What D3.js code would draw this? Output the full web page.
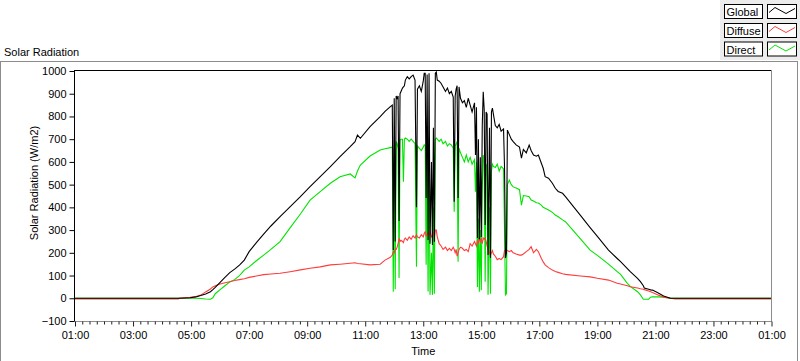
<!DOCTYPE html>
<html><head><meta charset="utf-8">
<script src="https://cdn.jsdelivr.net/npm/d3@7"></script>
<style>
body{margin:0;background:#fff;}
svg{display:block;font-family:"Liberation Sans",Arial,sans-serif;font-size:11px;}
</style></head><body>
<svg id="c" width="800" height="361"></svg>
<script>
// ---- data ----
const times = [
"01:00","04:34","04:35","04:58","05:10","05:20","05:30","05:40","05:45","05:50",
"06:00","06:10","06:20","06:30","06:40","06:50","07:00","07:15","07:30","07:45",
"08:04","08:25","08:46","09:06","09:27","09:48","10:08","10:29","10:39","10:44",
"10:50","11:10","11:31","11:41","11:52","11:56","11:58","12:00","12:02","12:04",
"12:06","12:08","12:10","12:12","12:14","12:17","12:19","12:21","12:23","12:27",
"12:31","12:35","12:39","12:43","12:46","12:48","12:52","12:56","13:00","13:02",
"13:04","13:06","13:08","13:10","13:12","13:14","13:17","13:19","13:21","13:23",
"13:25","13:27","13:29","13:33","13:37","13:41","13:46","13:50","13:54","13:58",
"14:02","14:04","14:06","14:08","14:10","14:12","14:14","14:17","14:21","14:25",
"14:29","14:33","14:37","14:41","14:46","14:48","14:50","14:52","14:54","14:56",
"14:58","15:00","15:02","15:04","15:06","15:08","15:10","15:12","15:14","15:17",
"15:19","15:21","15:23","15:25","15:29","15:33","15:37","15:41","15:46","15:48",
"15:50","15:52","15:54","15:58","16:02","16:06","16:12","16:19","16:23","16:27",
"16:33","16:39","16:43","16:48","16:54","16:58","17:04","17:08","17:12","17:19",
"17:27","17:33","17:39","17:48","17:54","18:25","18:45","19:00","19:23","19:41",
"19:48","20:02","20:08","20:23","20:29","20:35","20:37","20:46","20:50","20:54",
"21:04","21:17","21:31","21:41","01:00"];

const globalVals = [
0,0,0,2,6,12,19,29,38,48,
70,92,113,128,146,168,205,245,282,318,
359,403,447,491,535,579,623,667,689,718,
704,755,799,822,843,850,212,880,250,890,
880,890,340,900,910,925,930,935,960,975,
965,975,982,960,400,920,935,910,955,990,
990,441,985,256,990,240,600,234,750,249,
990,995,960,955,945,930,910,925,900,910,
885,425,890,920,935,441,930,880,860,870,
840,880,850,820,860,630,840,265,700,260,
620,270,760,909,830,322,820,810,190,750,
177,820,837,810,760,750,765,735,745,580,
177,199,740,720,700,689,675,665,617,655,
640,674,650,630,625,630,595,572,535,528,
506,484,470,462,447,365,311,272,212,175,
161,130,117,88,73,55,45,40,37,36,
25,10,0,0,0];

const diffuseVals = [
-3,-3,0,4,8,14,28,41,50,55,
63,68,73,78,82,86,92,98,104,107,
110,117,125,132,138,147,150,154,156,153,
152,147,150,168,180,190,205,200,215,215,
225,240,265,250,255,250,245,260,265,255,
270,260,275,265,280,270,265,280,270,285,
293,275,280,290,280,295,270,275,285,270,
300,300,270,240,230,215,225,210,220,210,
225,215,200,215,185,200,215,225,220,210,
215,205,240,230,250,240,230,255,240,265,
250,260,240,265,260,265,250,230,215,200,
190,200,210,195,185,170,175,170,183,210,
212,212,210,205,210,200,195,190,190,195,
205,215,227,200,215,205,176,160,147,135,
124,118,114,108,105,98,94,88,80,66,
63,55,51,45,42,40,38,32,29,25,
16,5,0,-3,-3];

const directVals = [
0,0,0,0,0,-1,-3,-4,2,20,
38,55,72,82,100,124,138,165,190,215,
249,311,371,432,469,506,535,547,530,560,
586,626,652,658,663,665,29,660,40,690,
680,660,89,695,700,700,513,700,705,700,
690,700,690,680,139,670,660,650,665,675,
670,147,680,30,660,15,200,15,400,20,
700,705,700,690,700,680,690,670,680,675,
660,381,670,680,690,161,660,640,620,600,
630,600,620,590,610,469,600,50,350,29,
300,35,480,630,600,73,590,580,15,400,
20,560,590,580,575,590,560,580,570,300,
15,20,500,520,500,490,485,478,410,452,
450,447,432,428,420,419,410,400,396,388,
378,366,359,345,337,261,212,189,150,117,
105,66,52,29,15,-4,-4,-4,5,7,
6,5,0,0,0];

const xTickLabels = ["01:00","03:00","05:00","07:00","09:00","11:00","13:00",
                     "15:00","17:00","19:00","21:00","23:00","01:00"];
const yTickValues = [-100,0,100,200,300,400,500,600,700,800,900,1000];
const seriesNames = ["Global","Diffuse","Direct"];
const seriesColors = ["#000000","#ff3b3b","#00e400"];

// ---- helpers ----
function toMinutes(list){
  const out=[]; let add=0, prev=-1;
  list.forEach(s=>{const [h,m]=s.split(":").map(Number); let v=h*60+m+add;
    if(v<prev){add+=1440; v+=1440;} prev=v; out.push(v);});
  return out;
}
const tMin = toMinutes(times);
const tickMin = toMinutes(xTickLabels);

const svg = d3.select("#c");
const X0=75, X1=771.5, YT=71, YB=321;
const x = d3.scaleLinear().domain([tickMin[0], tickMin[tickMin.length-1]]).range([X0, X1]);
const y = d3.scaleLinear().domain([-100,1000]).range([YB, YT]);

// outer frame
svg.append("rect").attr("x",0.5).attr("y",61.5).attr("width",797).attr("height",320)
  .attr("fill","#fff").attr("stroke","#8c8c8c");

// title
svg.append("text").attr("x",4).attr("y",56).text("Solar Radiation");

// legend panel
const lg = svg.append("g");
lg.append("rect").attr("x",720).attr("y",0).attr("width",80).attr("height",60).attr("fill","#ececec");
const rowsY=[4.5,23.5,42];
seriesNames.forEach((n,i)=>{
  const yy=rowsY[i];
  lg.append("rect").attr("x",724.5).attr("y",yy).attr("width",38).attr("height",14)
    .attr("fill","#fff").attr("stroke","#000");
  lg.append("text").attr("x",726.5).attr("y",yy+11.5).text(n);
  lg.append("rect").attr("x",767.5).attr("y",yy).attr("width",29).attr("height",14)
    .attr("fill","#fff").attr("stroke","#000");
  lg.append("path").attr("d",`M769,${yy+8} L775,${yy+3} L786,${yy+9} L795,${yy+4}`)
    .attr("fill","none").attr("stroke",seriesColors[i]).attr("stroke-width",1);
});

// clip
svg.append("clipPath").attr("id","clip").append("rect")
  .attr("x",X0).attr("y",YT-1).attr("width",X1-X0).attr("height",YB-YT+1);

// data lines
const seriesVals=[globalVals,diffuseVals,directVals];
const line = d3.line().x((d,i)=>x(tMin[i])).y(d=>y(d));
const gLines = svg.append("g").attr("clip-path","url(#clip)");
[2,1,0].forEach(k=>{
  gLines.append("path").datum(seriesVals[k]).attr("d",line)
    .attr("fill","none").attr("stroke",seriesColors[k]).attr("stroke-width",1.1)
    .attr("stroke-linejoin","miter");
});

// plot borders
svg.append("line").attr("x1",74).attr("x2",772).attr("y1",70.5).attr("y2",70.5).attr("stroke","#000");
svg.append("line").attr("x1",74.5).attr("x2",74.5).attr("y1",70).attr("y2",322).attr("stroke","#000");
svg.append("line").attr("x1",74).attr("x2",772).attr("y1",321.5).attr("y2",321.5).attr("stroke","#8c8c8c");
svg.append("line").attr("x1",771.5).attr("x2",771.5).attr("y1",70).attr("y2",322).attr("stroke","#8c8c8c");

// y axis
const yAx = svg.append("g").attr("transform","translate(74.5,0)")
  .call(d3.axisLeft(y).tickValues(yTickValues).tickSize(5).tickPadding(3).tickFormat(d3.format("d")));
yAx.select(".domain").remove();
yAx.selectAll("text").attr("font-size",11).attr("font-family","Liberation Sans, Arial, sans-serif").attr("fill","#000");
yAx.selectAll("line").attr("stroke","#000");

// x axis minor ticks
const minor = d3.range(tickMin[0], tickMin[tickMin.length-1]+1, 15).filter(v=>!tickMin.includes(v));
const xMin = svg.append("g").attr("transform","translate(0,321.5)")
  .call(d3.axisBottom(x).tickValues(minor).tickSize(3).tickFormat(""));
xMin.select(".domain").remove();
xMin.selectAll("line").attr("stroke","#222");

// x axis major ticks
const xAx = svg.append("g").attr("transform","translate(0,321.5)")
  .call(d3.axisBottom(x).tickValues(tickMin).tickSize(5).tickPadding(5)
    .tickFormat((d,i)=>xTickLabels[i]));
xAx.select(".domain").remove();
xAx.selectAll("text").attr("font-size",11).attr("font-family","Liberation Sans, Arial, sans-serif").attr("fill","#000");
xAx.selectAll("line").attr("stroke","#222");

// axis titles
svg.append("text").attr("x",(X0+X1)/2).attr("y",355).attr("text-anchor","middle").text("Time");
svg.append("text").attr("transform","translate(37.5,183) rotate(-90)")
  .attr("text-anchor","middle").text("Solar Radiation (W/m2)");
</script>
</body></html>
